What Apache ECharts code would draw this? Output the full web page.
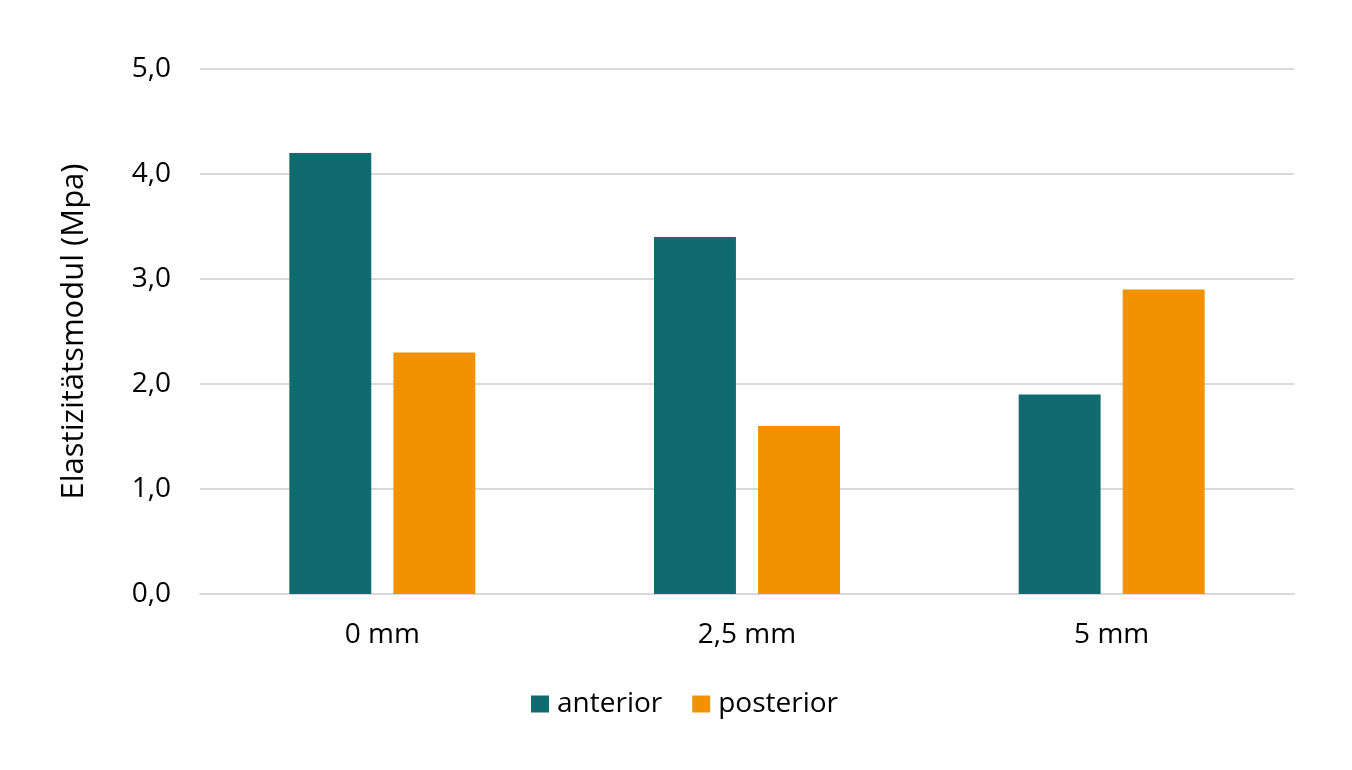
<!DOCTYPE html>
<html>
<head>
<meta charset="utf-8">
<script src="https://cdn.jsdelivr.net/npm/echarts@6/dist/echarts.min.js"></script>
<style>
html,body{margin:0;padding:0;background:#fff;}
#chart{width:1352px;height:770px;}
</style>
</head>
<body>
<div id="chart"></div>
<script>
const categories = ['0 mm', '2,5 mm', '5 mm'];
const anterior = [4.2, 3.4, 1.9];
const posterior = [2.3, 1.6, 2.9];
const yAxisName = 'Elastizitätsmodul (Mpa)';
const seriesNames = ['anterior', 'posterior'];

const FONT = '"Open Sans", sans-serif';
const chart = echarts.init(document.getElementById('chart'));
chart.setOption({
  animation: false,
  textStyle: { fontFamily: FONT },
  grid: { left: 200, right: 58, top: 69, bottom: 176 },
  legend: {
    bottom: 47,
    left: 526,
    itemWidth: 18,
    itemHeight: 17,
    itemGap: 30,
    icon: 'rect',
    textStyle: { fontFamily: FONT, fontSize: 28, color: '#000', padding: [0, 0, 0, 3] },
    data: seriesNames
  },
  xAxis: {
    type: 'category',
    data: categories,
    axisLine: { lineStyle: { color: '#d9d9d9', width: 2 } },
    axisTick: { show: false },
    axisLabel: { color: '#000', fontSize: 28, margin: 27, fontFamily: FONT }
  },
  yAxis: {
    type: 'value',
    min: 0,
    max: 5,
    interval: 1,
    name: yAxisName,
    nameLocation: 'middle',
    nameGap: 110,
    nameTextStyle: { color: '#000', fontSize: 31, fontFamily: FONT },
    axisLine: { show: false },
    axisTick: { show: false },
    axisLabel: {
      color: '#000', fontSize: 28, margin: 29, fontFamily: FONT,
      formatter: v => v.toFixed(1).replace('.', ',')
    },
    splitLine: { lineStyle: { color: '#d9d9d9', width: 2 } }
  },
  series: [
    {
      name: seriesNames[0], type: 'bar', data: anterior,
      itemStyle: { color: '#0F6B6F' },
      barGap: '27%', barCategoryGap: '49%'
    },
    {
      name: seriesNames[1], type: 'bar', data: posterior,
      itemStyle: { color: '#F29200' },
      barGap: '27%', barCategoryGap: '49%'
    }
  ]
});
</script>
</body>
</html>
